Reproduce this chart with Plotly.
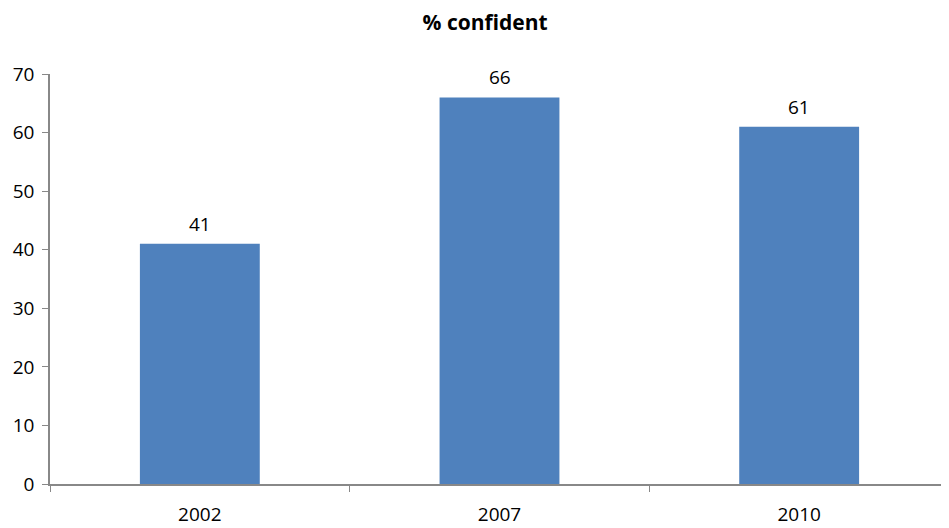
import plotly.graph_objects as go

years = ["2002", "2007", "2010"]
values = [41, 66, 61]
y_ticks = [0, 10, 20, 30, 40, 50, 60, 70]

font_family = "Open Sans, Liberation Sans, sans-serif"

fig = go.Figure(go.Bar(
    x=years, y=values,
    marker=dict(color="#4F81BD", line=dict(width=0)),
    width=0.4,
    hoverinfo="x+y",
))

for i, v in enumerate(values):
    fig.add_annotation(
        x=i, y=v, text=str(v), showarrow=False,
        yanchor="middle", yshift=20,
        font=dict(size=19, color="#000000", family=font_family),
    )

fig.update_layout(
    width=941, height=520,
    margin=dict(l=42, r=0, t=66, b=44),
    paper_bgcolor="white", plot_bgcolor="white",
    showlegend=False,
    title=dict(text="<b>% confident</b>", x=0.507, xanchor="center", y=0.972, yanchor="middle",
               font=dict(size=21, color="#000000", family=font_family)),
    font=dict(family=font_family, size=19, color="#000000"),
)
fig.update_xaxes(
    type="category", range=[-0.5, len(years) - 0.5], showline=True, linecolor="#888888", linewidth=1.5,
    ticks="outside", ticklen=6, tickcolor="#888888", tickson="boundaries",
    showgrid=False, tickfont=dict(size=19, color="#000000"), ticklabelstandoff=12,
    tickangle=0, automargin=False,
)
fig.update_yaxes(
    range=[0, 70], tickvals=y_ticks, showline=True, linecolor="#888888", linewidth=1.5,
    ticks="outside", ticklen=6, tickcolor="#888888", showgrid=False, zeroline=False,
    tickfont=dict(size=19, color="#000000"), ticklabelstandoff=4, automargin=False,
)

fig.write_html("out.html")
